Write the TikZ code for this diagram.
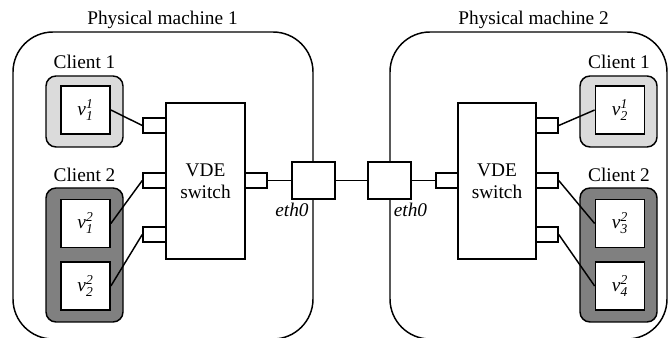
\documentclass[tikz,border=0pt]{standalone}
\usepackage{amsmath}
\usepackage{fontspec}
\setmainfont{Liberation Serif}
\definecolor{clientlight}{gray}{0.86}
\definecolor{clientdark}{gray}{0.5}
\begin{document}
\begin{tikzpicture}[x=0.75pt,y=-0.75pt,
  every node/.style={font=\fontsize{14.5}{16.2}\selectfont},
  machine/.style={draw, line width=1.1pt, rounded corners=30pt, inner sep=0pt,
    minimum height=230.25pt},
  clientbox/.style={draw, line width=1.1pt, rounded corners=7.5pt, inner sep=0pt,
    minimum width=57.75pt},
  vbox/.style={draw, fill=white, line width=1.3pt, inner sep=0pt,
    minimum width=36.75pt, minimum height=36pt},
  switchbox/.style={draw, fill=white, line width=1.1pt, align=center,
    minimum height=117pt},
  portbox/.style={draw, fill=white, line width=1.1pt, inner sep=0pt,
    minimum width=16.5pt, minimum height=11.25pt},
  ethbox/.style={draw, fill=white, line width=1.1pt, inner sep=0pt,
    minimum width=32.25pt, minimum height=27.75pt},
  caption/.style={anchor=base},
  link/.style={line width=1.1pt}]
\useasboundingbox (0,0) rectangle (668,338);
\clip (0,0) rectangle (668,338);

% physical machines
\node[machine, minimum width=225pt] (mL) at (163,185.5) {};
\node[machine, minimum width=207.75pt] (mR) at (528.5,185.5) {};
\node[caption] (tL) at (162.5,25) {Physical machine 1};
\node[caption] (tR) at (533.5,25) {Physical machine 2};

% clients of machine 1
\node[clientbox, fill=clientlight, minimum height=53.25pt] (c1L) at (84.5,111.5) {};
\node[clientbox, fill=clientdark, minimum height=100.5pt] (c2L) at (84.5,255) {};
\node[caption] (lc1L) at (84.5,69) {Client 1};
\node[caption] (lc2L) at (84.5,181.5) {Client 2};
\node[vbox] (v11) at (85.5,110) {$\textit{v}_{\textit{1}}^{\textit{1}}$};
\node[vbox] (v12) at (85.5,223.5) {$\textit{v}_{\textit{1}}^{\textit{2}}$};
\node[vbox] (v22) at (85.5,286) {$\textit{v}_{\textit{2}}^{\textit{2}}$};

% clients of machine 2
\node[clientbox, fill=clientlight, minimum height=53.25pt] (c1R) at (618.5,111.5) {};
\node[clientbox, fill=clientdark, minimum height=100.5pt] (c2R) at (618.5,255) {};
\node[caption] (lc1R) at (619,69) {Client 1};
\node[caption] (lc2R) at (619,181.5) {Client 2};
\node[vbox] (v21) at (620,110) {$\textit{v}_{\textit{2}}^{\textit{1}}$};
\node[vbox] (v32) at (620,223.5) {$\textit{v}_{\textit{3}}^{\textit{2}}$};
\node[vbox] (v42) at (620,286) {$\textit{v}_{\textit{4}}^{\textit{2}}$};

% switches
\node[switchbox, minimum width=59.25pt] (swL) at (205.5,181) {VDE\\switch};
\node[switchbox, minimum width=58.5pt] (swR) at (497,181) {VDE\\switch};

% switch ports
\node[portbox, minimum width=17.25pt] (p1L) at (154.5,125.5) {};
\node[portbox, minimum width=17.25pt] (p2L) at (154.5,180.5) {};
\node[portbox, minimum width=17.25pt] (p3L) at (154.5,234.5) {};
\node[portbox] (peL) at (256,180.5) {};
\node[portbox] (peR) at (447,180.5) {};
\node[portbox] (p1R) at (547,125.5) {};
\node[portbox] (p2R) at (547,180.5) {};
\node[portbox] (p3R) at (547,234.5) {};

% network interfaces
\node[ethbox] (ethL) at (313.5,180.5) {};
\node[ethbox] (ethR) at (389.5,180.5) {};
\node[caption, font=\fontsize{14.5}{16.2}\selectfont\itshape] (leL) at (292,217) {eth0};
\node[caption, font=\fontsize{14.5}{16.2}\selectfont\itshape] (leR) at (410.5,217) {eth0};

% links
\draw[link] (v11.east) -- (p1L.west);
\draw[link] (v12.east) -- (p2L.west);
\draw[link] (v22.east) -- (p3L.west);
\draw[link] (peL.east) -- (ethL.west);
\draw[link] (ethL.east) -- (ethR.west);
\draw[link] (ethR.east) -- (peR.west);
\draw[link] (p1R.east) -- (v21.west);
\draw[link] (p2R.east) -- (v32.west);
\draw[link] (p3R.east) -- (v42.west);
\end{tikzpicture}
\end{document}
